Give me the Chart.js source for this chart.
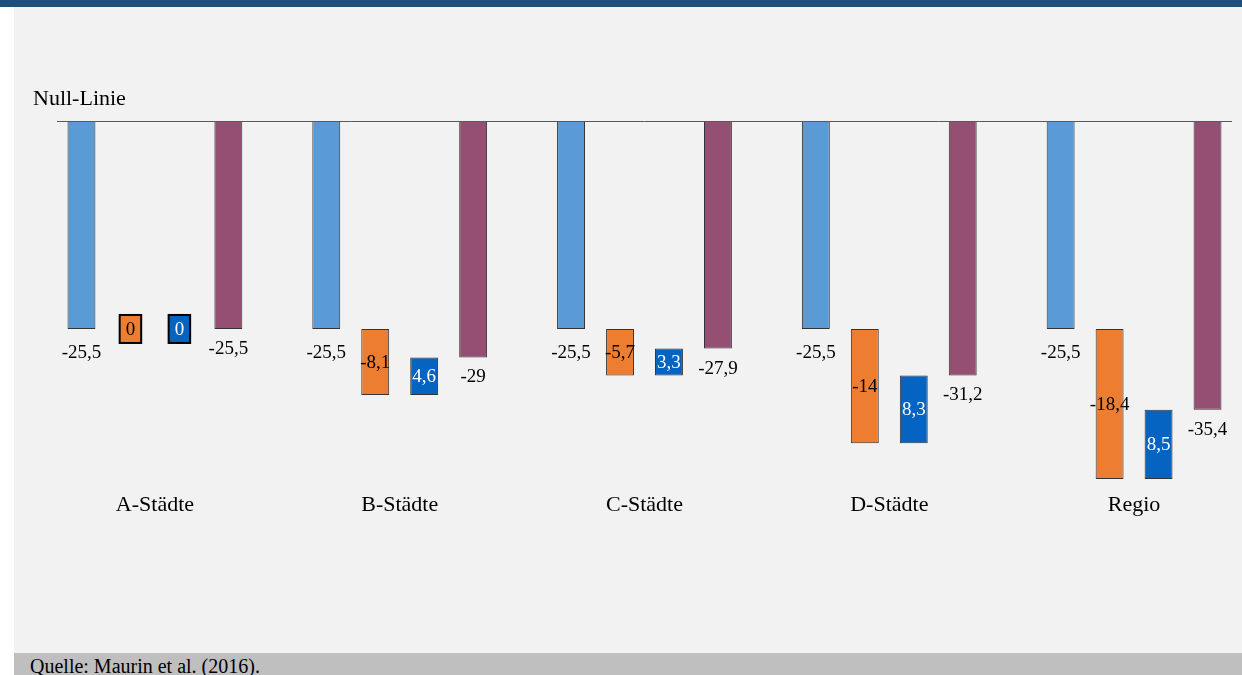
<!DOCTYPE html>
<html lang="de">
<head>
<meta charset="utf-8">
<title>Null-Linie</title>
<script src="https://cdn.jsdelivr.net/npm/chart.js@4.4.1/dist/chart.umd.min.js"></script>
<style>
html,body{margin:0;padding:0}
body{width:1242px;height:675px;overflow:hidden;position:relative;background:#fff;font-family:"Liberation Serif","Times New Roman",serif}
#kopf{position:absolute;left:0;top:0;width:1242px;height:7px;background:#1f4e79}
#flaeche{position:absolute;left:14px;top:7px;width:1228px;height:646px;background:#f2f2f2}
#fuss{position:absolute;left:14px;top:653px;width:1228px;height:22px;background:#bfbfbf}
#quelle{position:absolute;left:30px;top:655px;font-size:20px;line-height:22px;color:#000;white-space:nowrap}
canvas{position:absolute;left:0;top:0}
</style>
</head>
<body>
<div id="kopf"></div>
<div id="flaeche"></div>
<div id="fuss"></div>
<div id="quelle">Quelle: Maurin et al. (2016).</div>
<canvas id="grafik" width="1242" height="675"></canvas>
<script>
//DATEN
const kategorien=["A-Städte","B-Städte","C-Städte","D-Städte","Regio"]
const ausgang=[-25.5,-25.5,-25.5,-25.5,-25.5]
const effekt1=[0,-8.1,-5.7,-14,-18.4]
const effekt2=[0,4.6,3.3,8.3,8.5]
const gesamt=[-25.5,-29,-27.9,-31.2,-35.4]
const farben=["#5b9bd5","#ed7d31","#0563c1","#954f72"]

//jede Gruppe hat 4 Balken + 1 Lücke
const schritt=5

function balken(pos,von,bis){
    return kategorien.map((k,i)=>({x:schritt*i+pos,y:[von[i],bis[i]]}))
}

const null0=kategorien.map(()=>0)
const zwischen1=ausgang.map((v,i)=>v+effekt1[i])
const zwischen2=zwischen1.map((v,i)=>v+effekt2[i])

const datasets=[
    {data:balken(0,null0,ausgang),werte:ausgang,backgroundColor:farben[0]},
    {data:balken(1,ausgang,zwischen1),werte:effekt1,backgroundColor:farben[1]},
    {data:balken(2,zwischen1,zwischen2),werte:effekt2,backgroundColor:farben[2]},
    {data:balken(3,null0,gesamt),werte:gesamt,backgroundColor:farben[3]}
].map(ds=>({...ds,borderColor:"#333333",borderWidth:1,borderSkipped:false,grouped:false,barPercentage:0.57,categoryPercentage:1}))

//PLUGINS
const nullLinie={
    id:"nullLinie",
    afterDatasetsDraw(chart){
        const ctx=chart.ctx
        const area=chart.chartArea
        const y0=Math.round(chart.scales.y.getPixelForValue(0))+0.5
        ctx.save()
        ctx.strokeStyle="#595959"
        ctx.lineWidth=1
        ctx.beginPath()
        ctx.moveTo(area.left,y0)
        ctx.lineTo(area.right,y0)
        ctx.stroke()
        ctx.fillStyle="#000"
        ctx.font='22px "Liberation Serif"'
        ctx.textAlign="left"
        ctx.textBaseline="middle"
        ctx.fillText("Null-Linie",area.left-24,y0-22)
        ctx.restore()
    }
}

const wertLabels={
    id:"wertLabels",
    afterDatasetsDraw(chart){
        const ctx=chart.ctx
        ctx.save()
        ctx.font='19px "Liberation Serif"'
        ctx.textAlign="center"
        ctx.textBaseline="middle"
        chart.data.datasets.forEach((ds,d)=>{
            chart.getDatasetMeta(d).data.forEach((bar,i)=>{
                const wert=ds.werte[i]
                const text=String(wert).replace(".",",")
                const unten=Math.max(bar.y,bar.base)
                let y
                if (d===0) y=unten+23
                else if (d===3) y=unten+19
                else y=(bar.y+bar.base)/2
                if (wert===0) {
                    const w=ctx.measureText(text).width+12
                    ctx.fillStyle=ds.backgroundColor
                    ctx.fillRect(bar.x-w/2,y-14,w,28)
                    ctx.lineWidth=2
                    ctx.strokeStyle="#000"
                    ctx.strokeRect(bar.x-w/2,y-14,w,28)
                }
                ctx.fillStyle=d===2?"#fff":"#000"
                ctx.fillText(text,bar.x,y+1)
            })
        })
        ctx.restore()
    }
}

//GRAFIK
new Chart(document.querySelector("#grafik"),{
    type:"bar",
    data:{datasets},
    options:{
        responsive:false,
        animation:false,
        devicePixelRatio:1,
        layout:{padding:{left:57,right:10,top:121,bottom:147}},
        plugins:{legend:{display:false},tooltip:{enabled:false}},
        scales:{
            x:{
                type:"linear",
                min:-0.5,
                max:schritt*kategorien.length-1.5,
                offset:false,
                afterBuildTicks:(axis)=>{axis.ticks=kategorien.map((k,i)=>({value:schritt*i+1.5}))},
                afterFit:(axis)=>{axis.height=40},
                grid:{display:false,drawTicks:false},
                border:{display:false},
                ticks:{autoSkip:false,maxRotation:0,padding:4,color:"#000",font:{family:"Liberation Serif",size:22},callback:(v,i)=>kategorien[i]}
            },
            y:{
                display:false,
                min:-45,
                max:0,
                grid:{display:false}
            }
        }
    },
    plugins:[nullLinie,wertLabels]
})
</script>
</body>
</html>
